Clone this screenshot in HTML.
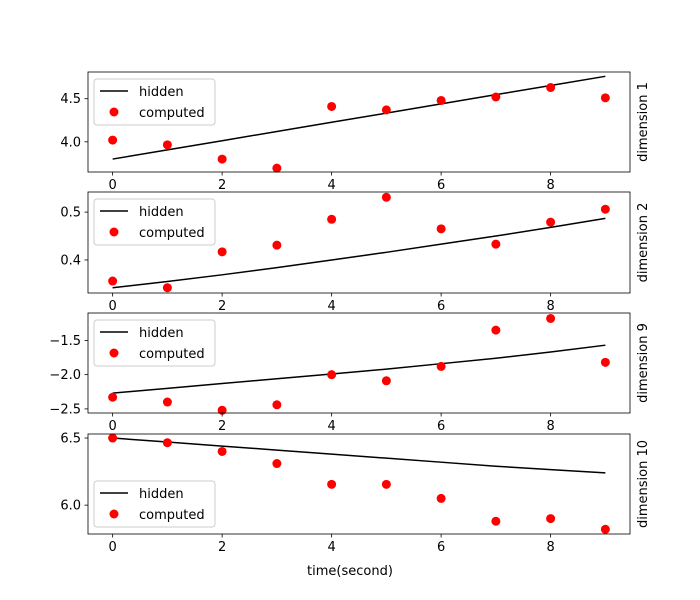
<!DOCTYPE html>
<html><head><meta charset="utf-8">
<style>
body{margin:0;background:#fff;}
svg{display:block;font-family:"DejaVu Sans","Liberation Sans",sans-serif;}
</style></head>
<body>
<svg id="chart" width="700" height="600" viewBox="0 0 700 600"></svg>
<script>
const times = [0,1,2,3,4,5,6,7,8,9];
const dimLabels = ["dimension 1","dimension 2","dimension 9","dimension 10"];
const hidden1 = [3.80,3.907,4.013,4.12,4.227,4.333,4.44,4.547,4.653,4.76];
const computed1 = [4.02,3.965,3.80,3.695,4.41,4.37,4.48,4.52,4.63,4.51];
const hidden2 = [0.342,0.355,0.369,0.384,0.400,0.416,0.433,0.450,0.468,0.487];
const computed2 = [0.356,0.342,0.417,0.431,0.485,0.531,0.465,0.433,0.479,0.506];
const hidden3 = [-2.27,-2.20,-2.13,-2.06,-1.99,-1.92,-1.84,-1.76,-1.67,-1.57];
const computed3 = [-2.33,-2.40,-2.52,-2.44,-2.0,-2.09,-1.88,-1.35,-1.18,-1.82];
const hidden4 = [6.50,6.47,6.44,6.41,6.38,6.35,6.32,6.29,6.265,6.24];
const computed4 = [6.50,6.465,6.40,6.31,6.155,6.155,6.05,5.88,5.90,5.82];
const yTicks1 = [4.0,4.5];
const yTicks2 = [0.4,0.5];
const yTicks3 = [-2.5,-2.0,-1.5];
const yTicks4 = [6.0,6.5];
const xTicks = [0,2,4,6,8];

const panels = [
  {top:72,bot:172,ymin:3.65,ymax:4.81,h:hidden1,c:computed1,t:yTicks1,lab:["4.0","4.5"],leg:"top"},
  {top:192,bot:293,ymin:0.331,ymax:0.542,h:hidden2,c:computed2,t:yTicks2,lab:["0.4","0.5"],leg:"top"},
  {top:313,bot:413,ymin:-2.56,ymax:-1.10,h:hidden3,c:computed3,t:yTicks3,lab:["−2.5","−2.0","−1.5"],leg:"top"},
  {top:434,bot:534,ymin:5.785,ymax:6.53,h:hidden4,c:computed4,t:yTicks4,lab:["6.0","6.5"],leg:"bottom"}
];
const L=88,R=630,xmin=-0.45,xmax=9.45;
const xs=v=>L+(v-xmin)/(xmax-xmin)*(R-L);
const svg=document.getElementById('chart');
const NS="http://www.w3.org/2000/svg";
function mk(tag,attrs,parent){const e=document.createElementNS(NS,tag);for(const k in attrs)e.setAttribute(k,attrs[k]);(parent||svg).appendChild(e);return e;}

panels.forEach((p,i)=>{
  const g=mk('g',{});
  
  
  const ys=v=>p.bot-(v-p.ymin)/(p.ymax-p.ymin)*(p.bot-p.top);
  // line
  const pl=mk('polyline',{points:times.map((t,j)=>xs(t)+','+ys(p.h[j])).join(' '),fill:'none',stroke:'#000','stroke-width':1.5},g);
  
  
  times.forEach((t,j)=>{
    const c=mk('circle',{cx:xs(t),cy:ys(p.c[j]),r:4.5,fill:'red'},g);
    
    
  });
  const fr=mk('rect',{x:L,y:p.top,width:R-L,height:p.bot-p.top,fill:'none',stroke:'#000','stroke-width':0.8},g);
  
  
  xTicks.forEach(t=>{
    mk('line',{x1:xs(t),x2:xs(t),y1:p.bot,y2:p.bot+3.5,stroke:'#000','stroke-width':0.8},g);
    const tx=mk('text',{x:xs(t),y:p.bot+17,'font-size':13,'text-anchor':'middle'},g);
    tx.textContent=t;
    
    
  });
  p.t.forEach((v,k)=>{
    mk('line',{x1:L-3.5,x2:L,y1:ys(v),y2:ys(v),stroke:'#000','stroke-width':0.8},g);
    const tx=mk('text',{x:L-7,y:ys(v)+4.5,'font-size':13,'text-anchor':'end'},g);
    tx.textContent=p.lab[k];
    
    
  });
  const cy=(p.top+p.bot)/2;
  const dl=mk('text',{x:647,y:cy,'font-size':13,'text-anchor':'middle',transform:`rotate(-90 647 ${cy})`},g);
  dl.textContent=dimLabels[i];
  
  
  // legend
  const ly=p.leg==="top"?p.top+7:p.bot-53;
  const lg=mk('g',{},g);
  
  
  mk('rect',{x:94,y:ly,width:121,height:46,rx:3,fill:'#fff','fill-opacity':0.8,stroke:'#ccc'},lg);
  mk('line',{x1:100,x2:128,y1:ly+12,y2:ly+12,stroke:'#000','stroke-width':1.5},lg);
  const t1=mk('text',{x:139,y:ly+17,'font-size':13},lg);t1.textContent='hidden';
  mk('circle',{cx:114,cy:ly+33,r:4.5,fill:'red'},lg);
  const t2=mk('text',{x:139,y:ly+38,'font-size':13},lg);t2.textContent='computed';
});
const xl=mk('text',{x:350,y:575,'font-size':13,'text-anchor':'middle'});
xl.textContent='time(second)';


</script>
</body></html>
